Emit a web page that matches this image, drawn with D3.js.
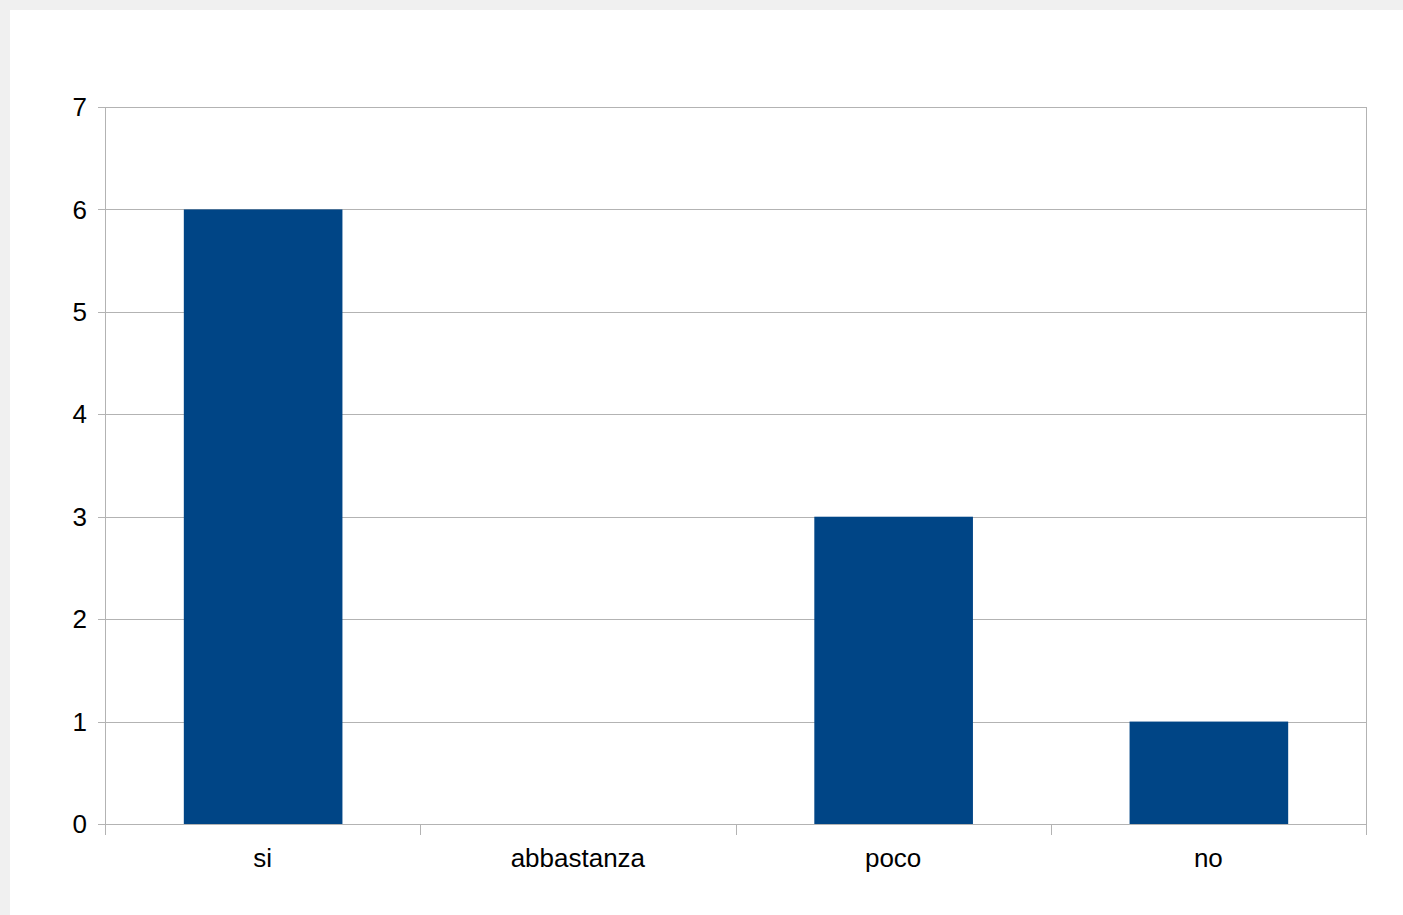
<!DOCTYPE html>
<html><head><meta charset="utf-8">
<script src="https://cdn.jsdelivr.net/npm/d3@7"></script>
<style>
html,body{margin:0;padding:0;background:#f0f0f0;}
svg{display:block;}
</style></head>
<body>
<svg id="c" width="1403" height="915"></svg>
<script>
const categories = ["si", "abbastanza", "poco", "no"];
const values = [6, 0, 3, 1];
const yTicks = [0, 1, 2, 3, 4, 5, 6, 7];

(function () {
const svg = d3.select("#c");
svg.append("rect").attr("x", 10).attr("y", 10).attr("width", 1393).attr("height", 905).attr("fill", "#ffffff");

const pL = 105, pR = 1366, pT = 107, pB = 824;
const x = d3.scaleBand().domain(categories).range([pL, pR]).paddingInner(0).paddingOuter(0);
const y = d3.scaleLinear().domain([0, 7]).range([pB, pT]);
const grid = "#b3b3b3";
const font = "'Liberation Sans', Arial, sans-serif";

svg.append("g").selectAll("line").data(yTicks).join("line")
  .attr("x1", pL - 7).attr("x2", pR)
  .attr("y1", d => Math.round(y(d)) + 0.5).attr("y2", d => Math.round(y(d)) + 0.5)
  .attr("stroke", grid).attr("stroke-width", 1);

svg.append("line").attr("x1", pR + 0.5).attr("x2", pR + 0.5).attr("y1", pT).attr("y2", pB + 11)
  .attr("stroke", grid);

const bw = x.bandwidth() * 0.5;
svg.append("g").selectAll("rect").data(categories).join("rect")
  .attr("x", d => x(d) + (x.bandwidth() - bw) / 2)
  .attr("width", bw + 1)
  .attr("y", (d, i) => y(values[i]))
  .attr("height", (d, i) => y(0) - y(values[i]))
  .attr("fill", "#004586");

svg.append("line").attr("x1", pL + 0.5).attr("x2", pL + 0.5).attr("y1", pT).attr("y2", pB + 11)
  .attr("stroke", grid);
svg.append("line").attr("x1", pL - 7).attr("x2", pR).attr("y1", pB + 0.5).attr("y2", pB + 0.5)
  .attr("stroke", grid);

const bounds = categories.map(c => x(c)).concat([pR]);
svg.append("g").selectAll("line").data(bounds).join("line")
  .attr("x1", d => Math.round(d) + 0.5).attr("x2", d => Math.round(d) + 0.5)
  .attr("y1", pB).attr("y2", pB + 11)
  .attr("stroke", grid);

svg.append("g").selectAll("text").data(yTicks).join("text")
  .attr("x", 87).attr("y", d => y(d)).attr("dy", "0.35em")
  .attr("text-anchor", "end").attr("font-family", font).attr("font-size", 26).attr("fill", "#000")
  .text(d => d);

svg.append("g").selectAll("text").data(categories).join("text")
  .attr("x", d => x(d) + x.bandwidth() / 2).attr("y", 867)
  .attr("text-anchor", "middle").attr("font-family", font).attr("font-size", 26).attr("fill", "#000")
  .text(d => d);
})();
</script>
</body></html>
